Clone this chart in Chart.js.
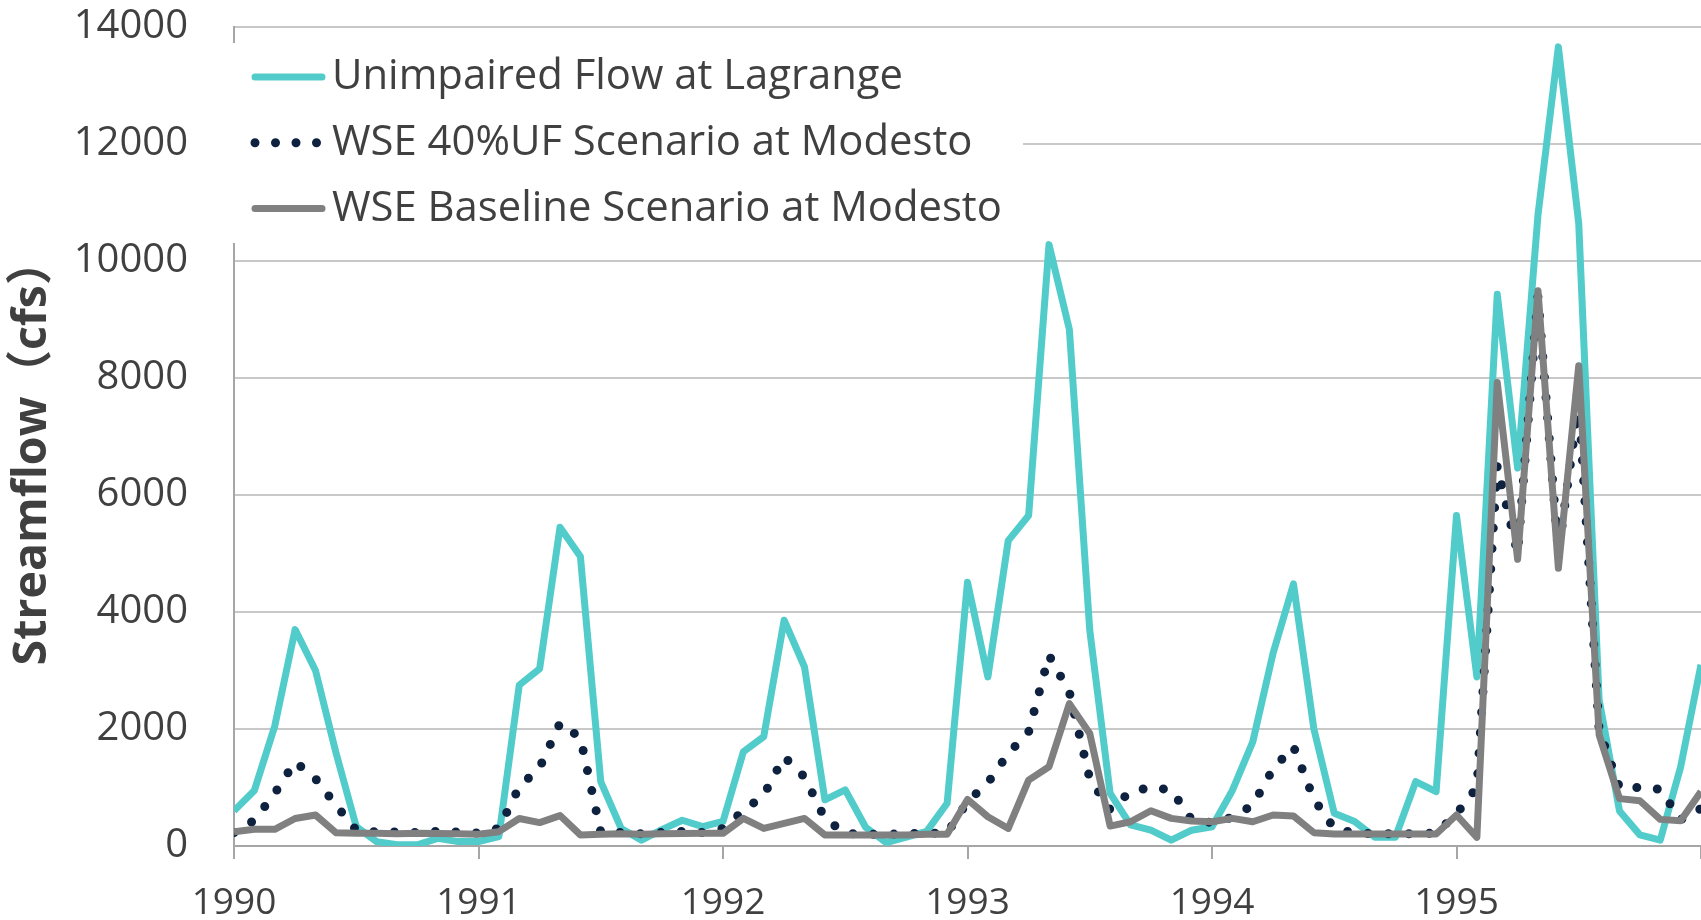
<!DOCTYPE html>
<html>
<head>
<meta charset="utf-8">
<script src="https://cdn.jsdelivr.net/npm/chart.js@4.4.1/dist/chart.umd.min.js"></script>
<style>
  body { margin: 0; background: #fff; }
</style>
</head>
<body>
<canvas id="flow-chart" width="1701" height="920"></canvas>
<script>
// monthly values, Jan 1990 .. Jan 1996 (last one sits on the right edge)
const yearLabels = ['1990', '1991', '1992', '1993', '1994', '1995', ''];
const seriesNames = [
    'Unimpaired Flow at Lagrange',
    'WSE 40%UF Scenario at Modesto',
    'WSE Baseline Scenario at Modesto'
];
const yTitle = 'Streamflow（cfs）';

const unimpaired = [
    600, 950, 2050, 3700, 3000, 1600, 330, 75, 20, 20, 130, 75,
    75, 160, 2750, 3030, 5450, 4950, 1100, 300, 100, 280, 440, 330,
    420, 1610, 1870, 3860, 3060, 790, 960, 320, 60, 150, 250, 730,
    4510, 2890, 5220, 5650, 10280, 8830, 3690, 900, 360, 270, 100, 270,
    330, 950, 1780, 3300, 4480, 2000, 560, 420, 150, 150, 1100, 930,
    5650, 2890, 9430, 6460, 10790, 13660, 10640, 2500, 600, 190, 100, 1350,
    3100
];
const wse40 = [
    230, 440, 900, 1440, 1150, 700, 270, 240, 240, 230, 250, 240,
    220, 300, 1010, 1340, 2100, 1850, 240, 230, 210, 230, 250, 230,
    300, 600, 870, 1525, 1180, 470, 216, 200, 200, 210, 220, 220,
    760, 1080, 1580, 1950, 3260, 2630, 1150, 620, 930, 1000, 960, 450,
    400, 490, 700, 1320, 1700, 800, 300, 220, 210, 210, 210, 220,
    550, 1000, 6500, 5000, 9400, 5000, 7600, 1980, 1000, 1000, 970, 450,
    640
];
const baseline = [
    245, 285, 285, 470, 530, 228, 220, 220, 210, 220, 215, 210,
    200, 245, 470, 400, 520, 190, 200, 210, 200, 210, 215, 216,
    216, 472, 300, 387, 472, 188, 190, 190, 190, 190, 200, 200,
    796, 500, 300, 1126, 1354, 2434, 1922, 341, 415, 603, 472, 427,
    415, 472, 415, 530, 512, 228, 205, 205, 205, 205, 205, 205,
    530, 148, 7924, 4900, 9493, 4747, 8210, 1900, 810, 773, 455, 432,
    930
];

const textColor = '#404040';
Chart.defaults.font.family = "'Open Sans', 'Noto Sans CJK SC', sans-serif";
Chart.defaults.color = textColor;

function toPoints(values) {
    return values.map((v, i) => ({ x: i, y: v }));
}

// legend sits in a white box over the top left of the plot
const boxLegend = {
    id: 'boxLegend',
    beforeDatasetsDraw(chart) {
        const ctx = chart.ctx;
        ctx.save();
        ctx.fillStyle = '#ffffff';
        ctx.fillRect(226, 43, 797, 200);
        chart.data.datasets.forEach((ds, i) => {
            const y = 77 + i * 65.8;
            ctx.beginPath();
            ctx.strokeStyle = ds.borderColor;
            ctx.lineWidth = ds.borderWidth;
            ctx.lineCap = 'round';
            ctx.setLineDash(ds.borderDash || []);
            ctx.moveTo(255, y);
            ctx.lineTo(ds.borderDash ? 318 : 322, y);
            ctx.stroke();
            ctx.setLineDash([]);
            ctx.fillStyle = textColor;
            ctx.font = "41.8px 'Open Sans'";
            ctx.textBaseline = 'middle';
            ctx.fillText(ds.label, 332, y);
        });
        ctx.restore();
    },
    afterDraw(chart) {
        const ctx = chart.ctx;
        ctx.save();
        ctx.translate(33, 452);
        ctx.rotate(-Math.PI / 2);
        ctx.fillStyle = textColor;
        ctx.font = "bold 46.5px 'Open Sans', 'Noto Sans CJK SC'";
        ctx.textAlign = 'center';
        ctx.textBaseline = 'middle';
        ctx.fillText(yTitle, 0, 0);
        ctx.restore();
    }
};

const ctx = document.getElementById('flow-chart').getContext('2d');
const chart = new Chart(ctx, {
    type: 'line',
    data: {
        datasets: [
            {
                label: seriesNames[0],
                data: toPoints(unimpaired),
                borderColor: '#52cbcb',
                borderWidth: 7,
                order: 3
            },
            {
                label: seriesNames[1],
                data: toPoints(wse40),
                borderColor: '#0e2240',
                borderWidth: 9,
                borderDash: [0, 20.5],
                borderCapStyle: 'round',
                order: 2
            },
            {
                label: seriesNames[2],
                data: toPoints(baseline),
                borderColor: '#808080',
                borderWidth: 7,
                order: 1
            }
        ]
    },
    options: {
        responsive: false,
        animation: false,
        elements: {
            point: { radius: 0 },
            line: { tension: 0, borderJoinStyle: 'round' }
        },
        layout: {
            padding: 0
        },
        scales: {
            x: {
                type: 'linear',
                min: 0,
                max: 72,
                afterFit: (scale) => {
                    scale.height = 74;
                    scale.paddingLeft = 0;
                    scale.paddingRight = 0;
                },
                border: { color: '#a6a6a6', width: 2 },
                grid: {
                    drawOnChartArea: false,
                    tickLength: 13,
                    color: '#a6a6a6',
                    lineWidth: 2
                },
                ticks: {
                    stepSize: 12,
                    autoSkip: false,
                    maxRotation: 0,
                    padding: 22,
                    font: { size: 37 },
                    callback: (value) => yearLabels[value / 12]
                }
            },
            y: {
                min: 0,
                max: 14000,
                afterFit: (scale) => {
                    scale.width = 234;
                    scale.paddingTop = 27;
                    scale.paddingBottom = 0;
                },
                border: { color: '#a6a6a6', width: 2 },
                grid: {
                    drawTicks: false,
                    color: '#c8c8c8',
                    lineWidth: 2
                },
                ticks: {
                    stepSize: 2000,
                    padding: 46,
                    font: { size: 40 },
                    callback: (value) => String(value)
                }
            }
        },
        plugins: {
            legend: { display: false },
            tooltip: { enabled: false }
        }
    },
    plugins: [boxLegend]
});
</script>
</body>
</html>
